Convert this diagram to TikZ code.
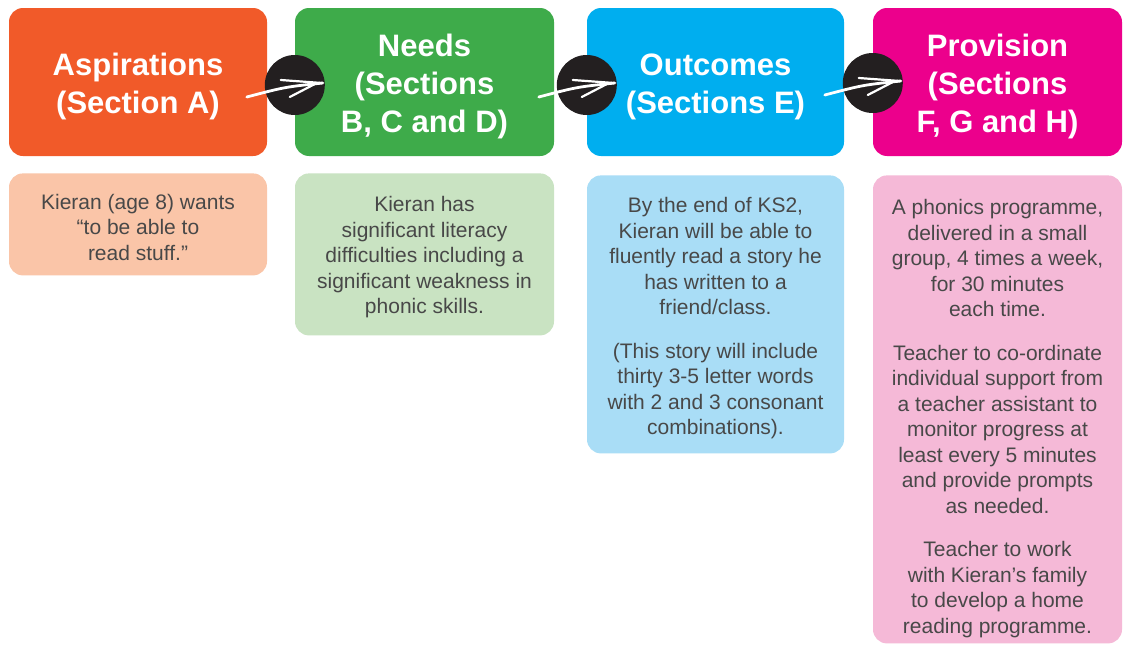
\documentclass[tikz,border=0pt]{standalone}
\usepackage{fontspec}
\setmainfont{Liberation Sans}
\usetikzlibrary{positioning}

\definecolor{aspOrange}{RGB}{241,90,41}
\definecolor{needGreen}{RGB}{62,171,74}
\definecolor{outBlue}{RGB}{0,174,239}
\definecolor{provPink}{RGB}{236,0,140}
\definecolor{aspLight}{RGB}{250,197,168}
\definecolor{needLight}{RGB}{201,227,194}
\definecolor{outLight}{RGB}{169,221,246}
\definecolor{provLight}{RGB}{245,185,215}
\definecolor{bodyGrey}{RGB}{72,72,72}
\definecolor{linkBlack}{RGB}{35,31,32}

% pushes a block of lines down inside its box
\newcommand{\topgap}[1]{\rule{0pt}{#1}}

\begin{document}
\begin{tikzpicture}[
    x = 1pt, y = -1pt,
    every node/.style = {inner sep = 0pt},
    head/.style = {fill = #1, rounded corners = 14pt, text = white,
        align = center, minimum height = 148pt,
        font = \fontsize{31}{38}\selectfont\bfseries},
    body/.style = {fill = #1, rounded corners = 14pt, text = bodyGrey,
        align = center, font = \fontsize{21}{25.5}\selectfont},
    link/.style = {circle, fill = linkBlack, minimum size = 60pt},
    stroke/.style = {white, line width = 2.8pt, line cap = round}]

\fill[white] (0,0) rectangle (1124,645);
\useasboundingbox (0,0) rectangle (1124,645);

% headings
\node[head = aspOrange, minimum width = 258pt] (asp) at (138,82)
    {\topgap{32pt}Aspirations\\(Section A)};
\node[head = needGreen, minimum width = 259pt] (need) at (424.5,82)
    {\topgap{32pt}Needs\\(Sections\\B, C and D)};
\node[head = outBlue, minimum width = 257pt] (out) at (715.5,82)
    {\topgap{32pt}Outcomes\\(Sections E)};
\node[head = provPink, minimum width = 249pt] (prov) at (997.5,82)
    {\topgap{32pt}Provision\\(Sections\\F, G and H)};

% details under each heading
\node[body = aspLight, minimum width = 258pt, minimum height = 102pt,
      below = 17pt of asp] (aspText)
    {\topgap{21pt}Kieran (age 8) wants\\“to be able to\\read stuff.”};
\node[body = needLight, minimum width = 259pt, minimum height = 162pt,
      below = 17pt of need] (needText)
    {\topgap{21pt}Kieran has\\significant literacy\\difficulties including a\\
     significant weakness in\\phonic skills.};
\node[body = outLight, minimum width = 257pt, minimum height = 278pt,
      below = 19pt of out] (outText)
    {\topgap{23pt}By the end of KS2,\\Kieran will be able to\\fluently read a story he\\
     has written to a\\friend/class.\\[18pt]
     (This story will include\\thirty 3-5 letter words\\
     with 2 and 3 consonant\\combinations).};
\node[body = provLight, minimum width = 249pt, minimum height = 468pt,
      below = 19pt of prov] (provText)
    {\topgap{34pt}A phonics programme,\\delivered in a small\\group, 4 times a week,\\
     for 30 minutes\\each time.\\[18pt]
     Teacher to co-ordinate\\individual support from\\a teacher assistant to\\
     monitor progress at\\least every 5 minutes\\and provide prompts\\
     as needed.\\[18pt]
     Teacher to work\\with Kieran’s family\\to develop a home\\
     reading programme.};

% links between the headings
\node[link] (l1) at ([yshift=-3pt]need.west) {};
\node[link] (l2) at ([yshift=-3pt]out.west) {};
\node[link] (l3) at ([yshift=-1pt]prov.west) {};

\foreach \l in {l1,l2,l3} {
    \draw[stroke] ([shift={(-48,12)}]\l.center)
        .. controls ([shift={(-10,2)}]\l.center) .. ([shift={(28,-2)}]\l.center);
    \draw[stroke, line width = 2.2pt] ([shift={(-14,-5)}]\l.center)
        -- ([shift={(27,-2)}]\l.center);
    \draw[stroke, line width = 2.2pt] ([shift={(-5,12)}]\l.center)
        -- ([shift={(22,-2)}]\l.center);
}
\end{tikzpicture}
\end{document}
